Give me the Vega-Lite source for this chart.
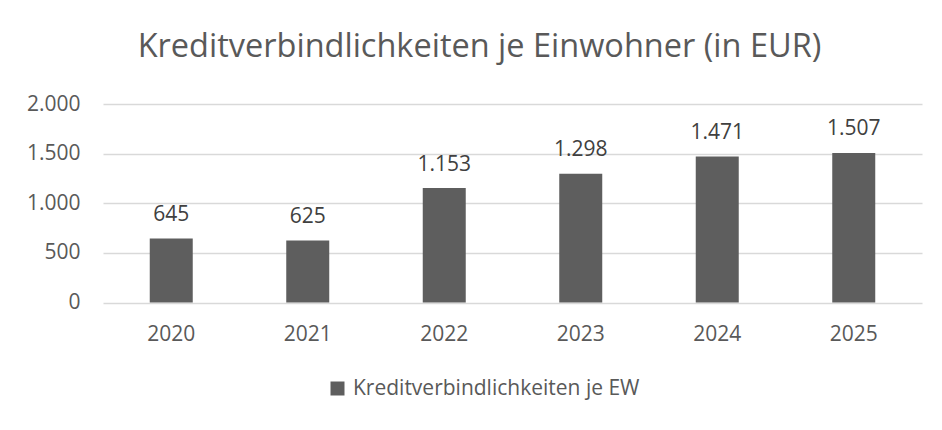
{
  "$schema": "https://vega.github.io/schema/vega-lite/v6.json",
  "autosize": {"type": "none"},
  "width": 819,
  "height": 198.5,
  "padding": {"left": 103, "top": 104, "right": 20, "bottom": 127.5},
  "background": "#ffffff",
  "title": {
    "text": "Kreditverbindlichkeiten je Einwohner (in EUR)",
    "font": "Open Sans",
    "fontSize": 32.5,
    "fontWeight": "normal",
    "color": "#595959",
    "anchor": "middle",
    "dx": -33,
    "baseline": "alphabetic",
    "offset": 4
  },
  "data": {
    "values": [
      {"Jahr": "2020", "Wert": 645, "Reihe": "Kreditverbindlichkeiten je EW"},
      {"Jahr": "2021", "Wert": 625, "Reihe": "Kreditverbindlichkeiten je EW"},
      {"Jahr": "2022", "Wert": 1153, "Reihe": "Kreditverbindlichkeiten je EW"},
      {"Jahr": "2023", "Wert": 1298, "Reihe": "Kreditverbindlichkeiten je EW"},
      {"Jahr": "2024", "Wert": 1471, "Reihe": "Kreditverbindlichkeiten je EW"},
      {"Jahr": "2025", "Wert": 1507, "Reihe": "Kreditverbindlichkeiten je EW"}
    ]
  },
  "encoding": {
    "x": {
      "field": "Jahr",
      "type": "ordinal",
      "scale": {"paddingInner": 0.685, "paddingOuter": 0.3425},
      "axis": {
        "title": null,
        "labelAngle": 0,
        "labelPadding": 21,
        "ticks": false,
        "domain": false,
        "grid": false
      }
    },
    "y": {
      "field": "Wert",
      "type": "quantitative",
      "scale": {"domain": [0, 2000], "nice": false},
      "axis": {
        "title": null,
        "values": [0, 500, 1000, 1500, 2000],
        "format": ",d",
        "labelPadding": 23,
        "ticks": false,
        "domain": false,
        "grid": true,
        "gridColor": "#d9d9d9",
        "gridWidth": 1.5
      }
    }
  },
  "layer": [
    {
      "mark": {"type": "bar", "color": "#5e5e5e"},
      "encoding": {
        "color": {
          "field": "Reihe",
          "type": "nominal",
          "scale": {"range": ["#5e5e5e"]},
          "legend": {
            "title": null,
            "orient": "none",
            "legendX": 224,
            "legendY": 274,
            "symbolType": "square",
            "symbolSize": 196,
            "symbolStrokeWidth": 0,
            "labelOffset": 5,
            "labelFontSize": 21,
            "labelFont": "Open Sans",
            "labelColor": "#595959",
            "labelLimit": 500
          }
        }
      }
    },
    {
      "mark": {
        "type": "text",
        "baseline": "alphabetic",
        "dy": -17.5,
        "font": "Open Sans",
        "fontSize": 21,
        "color": "#404040"
      },
      "encoding": {
        "text": {"field": "Wert", "type": "quantitative", "format": ",d"}
      }
    }
  ],
  "config": {
    "locale": {
      "number": {"decimal": ",", "thousands": ".", "grouping": [3], "currency": ["", " €"]}
    },
    "view": {"stroke": null},
    "axis": {
      "labelFont": "Open Sans",
      "labelFontSize": 21,
      "labelColor": "#595959"
    }
  }
}
